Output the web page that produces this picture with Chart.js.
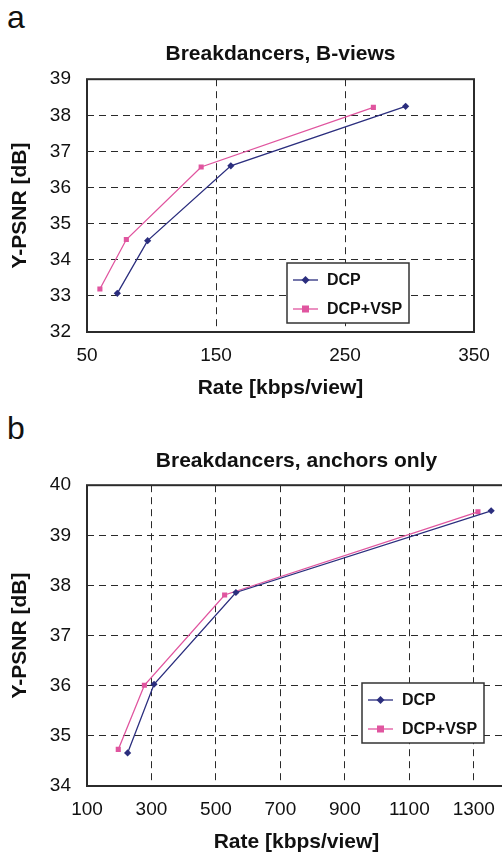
<!DOCTYPE html>
<html>
<head>
<meta charset="utf-8">
<script src="https://cdn.jsdelivr.net/npm/chart.js@4.4.0/dist/chart.umd.min.js"></script>
<style>
  html, body { margin: 0; padding: 0; background: #fff; overflow: hidden; }
  body { width: 502px; height: 855px; position: relative; font-family: "Liberation Sans", Arial, sans-serif; }
  .panel-letter { position: absolute; left: 7px; font-size: 32px; line-height: 1; color: #111; }
  #wrapA { position: absolute; left: 0; top: 0; }
  #wrapB { position: absolute; left: 0; top: 420px; }
</style>
</head>
<body>
<div class="panel-letter" style="top:1px">a</div>
<div class="panel-letter" style="top:412px">b</div>
<div id="wrapA"><canvas id="chartA" width="502" height="420"></canvas></div>
<div id="wrapB"><canvas id="chartB" width="520" height="435"></canvas></div>
<script>
// panel a: Breakdancers, B-views
const rateDcpA = [73.5, 97, 161.5, 297];
const psnrDcpA = [33.07, 34.53, 36.6, 38.25];
const rateVspA = [60, 80.5, 138.5, 272];
const psnrVspA = [33.19, 34.56, 36.57, 38.22];
const xTicksA = [50, 150, 250, 350];
const yTicksA = [32, 33, 34, 35, 36, 37, 38, 39];

// panel b: Breakdancers, anchors only
const rateDcpB = [226, 308, 562, 1354];
const psnrDcpB = [34.66, 36.03, 37.86, 39.49];
const rateVspB = [197, 278, 527, 1313];
const psnrVspB = [34.73, 36.01, 37.81, 39.47];
const xTicksB = [100, 300, 500, 700, 900, 1100, 1300];
const yTicksB = [34, 35, 36, 37, 38, 39, 40];

const seriesNames = ["DCP", "DCP+VSP"];

const navy = "#2b2e7e";
const pink = "#e0559f";
const gridCol = "#2a2a2a";

function toPoints(xs, ys) {
    return xs.map((x, i) => ({ x: x, y: ys[i] }));
}

// box round the plot + legend inside the plot area
const frameAndLegend = {
    id: "frameAndLegend",
    afterDraw(chart, args, opts) {
        const ctx = chart.ctx;
        const a = chart.chartArea;
        ctx.save();
        ctx.strokeStyle = "#2b2b2b";
        ctx.lineWidth = 2;
        ctx.strokeRect(a.left, a.top, a.right - a.left, a.bottom - a.top);

        // legend box
        const w = 122, h = 60;
        const bx = a.right - opts.right - w;
        const by = a.bottom - opts.bottom - h;
        ctx.fillStyle = "#fff";
        ctx.fillRect(bx, by, w, h);
        ctx.lineWidth = 1.5;
        ctx.strokeStyle = "#333";
        ctx.strokeRect(bx, by, w, h);

        ctx.font = "bold 16px 'Liberation Sans', Arial, sans-serif";
        ctx.textBaseline = "middle";
        chart.data.datasets.forEach((ds, i) => {
            const cy = by + 17 + i * 29;
            ctx.strokeStyle = ds.borderColor;
            ctx.lineWidth = 1.3;
            ctx.beginPath();
            ctx.moveTo(bx + 6, cy);
            ctx.lineTo(bx + 31, cy);
            ctx.stroke();
            ctx.fillStyle = ds.borderColor;
            if (ds.pointStyle === "rect") {
                ctx.fillRect(bx + 18.5 - 3.5, cy - 3.5, 7, 7);
            } else {
                ctx.beginPath();
                ctx.moveTo(bx + 18.5, cy - 4);
                ctx.lineTo(bx + 22.5, cy);
                ctx.lineTo(bx + 18.5, cy + 4);
                ctx.lineTo(bx + 14.5, cy);
                ctx.closePath();
                ctx.fill();
            }
            ctx.fillStyle = "#111";
            ctx.fillText(ds.label, bx + 40, cy + 1);
        });
        ctx.restore();
    }
};

function makeChart(id, cfg) {
    const tickFont = { family: "'Liberation Sans', Arial, sans-serif", size: 19 };
    const boldFont = { family: "'Liberation Sans', Arial, sans-serif", size: 21, weight: "bold" };
    return new Chart(document.getElementById(id), {
        type: "line",
        data: {
            datasets: [
                {
                    label: seriesNames[0],
                    data: toPoints(cfg.rateDcp, cfg.psnrDcp),
                    borderColor: navy,
                    backgroundColor: navy,
                    borderWidth: 1.3,
                    pointStyle: "rectRot",
                    pointRadius: 3.6,
                    pointBorderWidth: 0,
                    order: 1
                },
                {
                    label: seriesNames[1],
                    data: toPoints(cfg.rateVsp, cfg.psnrVsp),
                    borderColor: pink,
                    backgroundColor: pink,
                    borderWidth: 1.3,
                    pointStyle: "rect",
                    pointRadius: 3.6,
                    pointBorderWidth: 0,
                    order: 2
                }
            ]
        },
        options: {
            responsive: false,
            animation: false,
            layout: { padding: { left: 0, right: cfg.padRight, top: 0, bottom: 0 } },
            plugins: {
                legend: { display: false },
                tooltip: { enabled: false },
                title: {
                    display: true,
                    text: cfg.title,
                    fullSize: false,
                    color: "#111",
                    font: boldFont,
                    padding: { top: cfg.titleTop, bottom: cfg.titleBottom }
                },
                frameAndLegend: cfg.legendPos
            },
            scales: {
                x: {
                    type: "linear",
                    min: cfg.xMin,
                    max: cfg.xMax,
                    afterBuildTicks(scale) { scale.ticks = cfg.xTicks.map(v => ({ value: v })); },
                    afterFit(scale) { scale.height = cfg.xAxisHeight; },
                    ticks: {
                        color: "#111",
                        font: tickFont,
                        padding: 12,
                        maxRotation: 0,
                        autoSkip: false,
                        callback: v => String(v)
                    },
                    grid: { color: gridCol, lineWidth: 1, drawTicks: false },
                    border: { display: false, dash: [7, 5] },
                    title: {
                        display: true,
                        text: "Rate [kbps/view]",
                        color: "#111",
                        font: boldFont,
                        padding: { top: 0, bottom: cfg.xTitleBottom }
                    }
                },
                y: {
                    min: cfg.yMin,
                    max: cfg.yMax,
                    afterBuildTicks(scale) { scale.ticks = cfg.yTicks.map(v => ({ value: v })); },
                    afterFit(scale) { scale.width = 87; },
                    ticks: {
                        color: "#111",
                        font: tickFont,
                        padding: 16,
                        autoSkip: false,
                        callback: v => String(v)
                    },
                    grid: { color: gridCol, lineWidth: 1, drawTicks: false },
                    border: { display: false, dash: [7, 5] },
                    title: {
                        display: true,
                        text: "Y-PSNR [dB]",
                        color: "#111",
                        font: boldFont,
                        padding: { top: 8, bottom: 0 }
                    }
                }
            }
        },
        plugins: [frameAndLegend]
    });
}

makeChart("chartA", {
    title: "Breakdancers, B-views",
    rateDcp: rateDcpA, psnrDcp: psnrDcpA, rateVsp: rateVspA, psnrVsp: psnrVspA,
    xTicks: xTicksA, yTicks: yTicksA,
    xMin: 50, xMax: 350, yMin: 32, yMax: 39,
    padRight: 28, titleTop: 42, titleBottom: 12,
    xAxisHeight: 88, xTitleBottom: 19,
    legendPos: { right: 65, bottom: 9 }
});

makeChart("chartB", {
    title: "Breakdancers, anchors only",
    rateDcp: rateDcpB, psnrDcp: psnrDcpB, rateVsp: rateVspB, psnrVsp: psnrVspB,
    xTicks: xTicksB, yTicks: yTicksB,
    xMin: 100, xMax: 1400, yMin: 34, yMax: 40,
    padRight: 14, titleTop: 29, titleBottom: 11,
    xAxisHeight: 69, xTitleBottom: 0,
    legendPos: { right: 22, bottom: 43 }
});
</script>
</body>
</html>
